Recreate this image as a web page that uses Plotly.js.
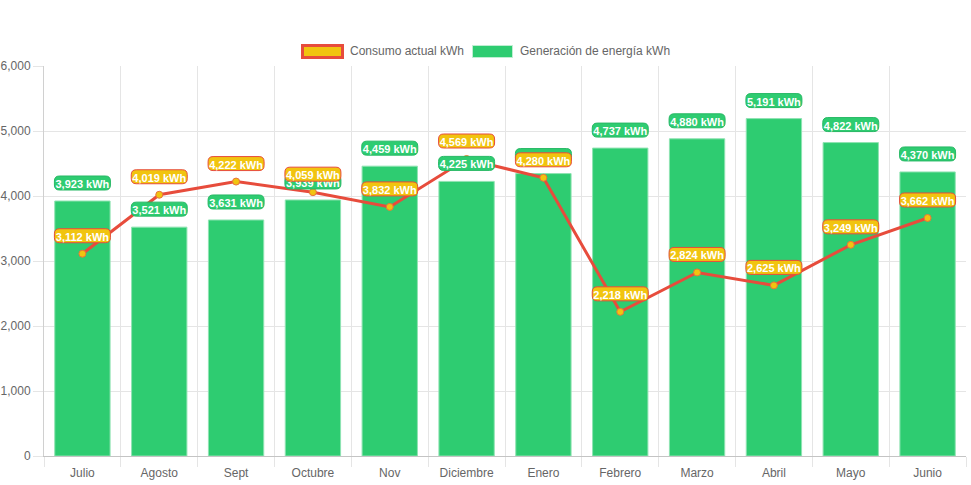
<!DOCTYPE html>
<html><head><meta charset="utf-8">
<script src="https://cdn.plot.ly/plotly-3.0.1.min.js"></script>
<style>html,body{margin:0;padding:0;background:#fff}#chart{width:971px;height:485px}</style>
</head><body><div id="chart"></div>
<script>
const months = ['Julio','Agosto','Sept','Octubre','Nov','Diciembre','Enero','Febrero','Marzo','Abril','Mayo','Junio'];
const consumo = [3112,4019,4222,4059,3832,4569,4280,2218,2824,2625,3249,3662];
const generacion = [3923,3521,3631,3939,4459,4225,4345,4737,4880,5191,4822,4370];
const yTicks = [0,1000,2000,3000,4000,5000,6000];
const seriesNames = ['Consumo actual kWh','Generación de energía kWh'];
const unit = ' kWh';

const RED = '#e74c3c', YELLOW = '#f1c40f', GREEN = '#2ecc71';
const FONT = 'Liberation Sans, Arial, Helvetica, sans-serif';

const pill = 'M-23,11 L23,11 Q28,11 28,16 L28,20 Q28,25 23,25 L-23,25 Q-28,25 -28,20 L-28,16 Q-28,11 -23,11 Z';
function fmt(v){ return v.toLocaleString('en-US'); }
function labelShape(cat, val, fill, border){
  return {type:'path', xref:'x', yref:'y', xsizemode:'pixel', ysizemode:'pixel',
    xanchor:cat, yanchor:val, path:pill, fillcolor:fill, line:{color:border, width:1}, layer:'above',
    label:{text:fmt(val)+unit, textposition:'middle center', padding:0,
      font:{family:FONT, size:11, color:'#ffffff', weight:'bold'}}};
}

const shapes = [];
months.forEach((m,i)=>shapes.push(labelShape(m, generacion[i], GREEN, '#27b864')));
months.forEach((m,i)=>shapes.push(labelShape(m, consumo[i], YELLOW, RED)));
// custom legend boxes
shapes.push({type:'rect', xref:'paper', yref:'paper', xsizemode:'pixel', ysizemode:'pixel', xanchor:0, yanchor:1,
  x0:258.5, x1:298.5, y0:20.5, y1:8.5, fillcolor:YELLOW, line:{color:RED, width:3}, layer:'above'});
shapes.push({type:'rect', xref:'paper', yref:'paper', xsizemode:'pixel', ysizemode:'pixel', xanchor:0, yanchor:1,
  x0:428.5, x1:468.5, y0:20.5, y1:8.5, fillcolor:GREEN, line:{color:'#bfeed2', width:1}, layer:'above'});

const annotations = [
  {xref:'paper', yref:'paper', x:0, y:1, xshift:304, yshift:15, xanchor:'left', yanchor:'middle', showarrow:false,
   text:seriesNames[0], font:{family:FONT, size:12, color:'#666'}},
  {xref:'paper', yref:'paper', x:0, y:1, xshift:474, yshift:15, xanchor:'left', yanchor:'middle', showarrow:false,
   text:seriesNames[1], font:{family:FONT, size:12, color:'#666'}}
];

const traces = [
  {type:'bar', x:months, y:generacion, name:seriesNames[1], showlegend:false,
   marker:{color:GREEN, line:{color:'#8fe3b2', width:1}}, hoverinfo:'skip'},
  {type:'scatter', mode:'lines+markers', x:months, y:consumo, name:seriesNames[0], showlegend:false,
   line:{color:RED, width:3}, marker:{size:7, color:YELLOW, line:{color:'#e8743b', width:1}}, cliponaxis:false, hoverinfo:'skip'}
];

const layout = {
  width:971, height:485, margin:{l:44, r:5, t:66, b:29},
  paper_bgcolor:'#fff', plot_bgcolor:'#fff', showlegend:false, bargap:0.28,
  font:{family:FONT, size:12, color:'#666'},
  xaxis:{type:'category', range:[-0.5, months.length-0.5], tickson:'boundaries', ticks:'outside', ticklen:10, tickcolor:'#e5e5e5',
    ticklabelstandoff:6,
    showgrid:true, gridcolor:'#e5e5e5', showline:true, linecolor:'#c4c4c4', linewidth:1, automargin:false,
    tickfont:{family:FONT, size:12, color:'#666'}, fixedrange:true},
  yaxis:{range:[0,6000], tickvals:yTicks, tickformat:',', ticks:'outside', ticklen:10, tickcolor:'#e5e5e5',
    showgrid:true, gridcolor:'#e5e5e5', zeroline:false, showline:true, linecolor:'#d0d0d0', automargin:false,
    tickfont:{family:FONT, size:12, color:'#666'}, fixedrange:true},
  shapes:shapes, annotations:annotations
};
Plotly.newPlot('chart', traces, layout, {displayModeBar:false, staticPlot:true});
</script></body></html>
